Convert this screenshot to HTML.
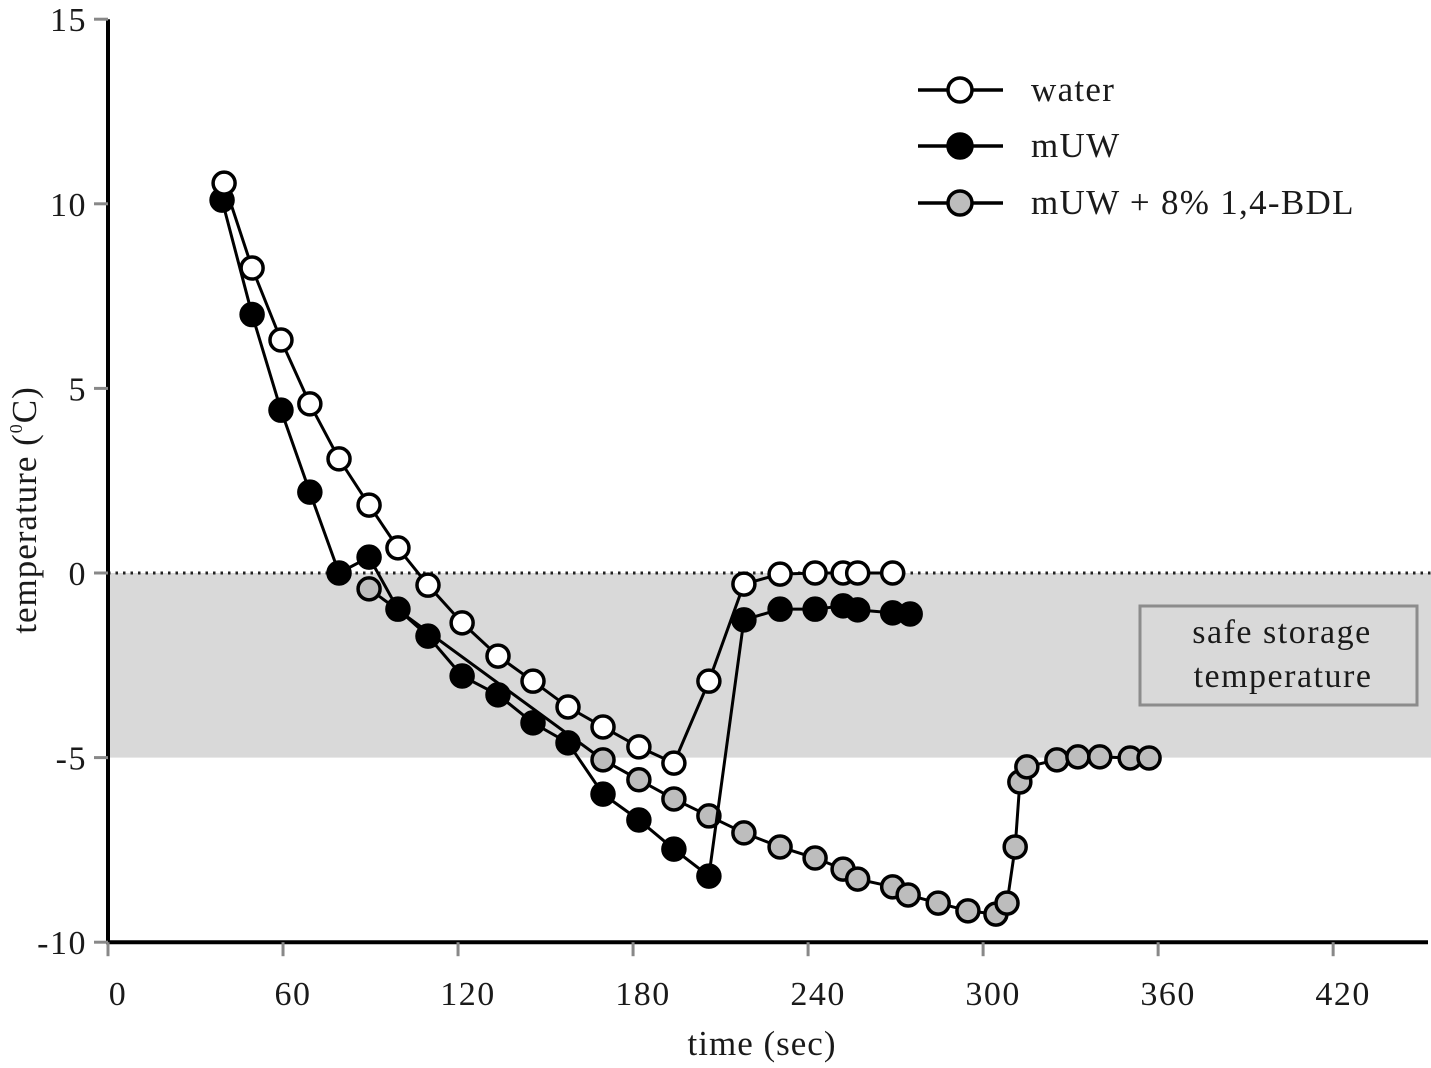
<!DOCTYPE html>
<html><head><meta charset="utf-8">
<style>
html,body{margin:0;padding:0;background:#fff;}
svg text{font-family:"Liberation Serif",serif;fill:#1a1a1a;}
</style></head>
<body>
<svg id="chart" width="1431" height="1063" viewBox="0 0 1431 1063" xmlns="http://www.w3.org/2000/svg">
<g id="bg"></g><g id="axes"></g><g id="series"></g><g id="legend"></g>
</svg>
<script>
const xTicks=[0,60,120,180,240,300,360,420];
const yTicks=[15,10,5,0,-5,-10];
const waterT=[39.8,49.4,59.3,69.2,79.2,89.5,99.4,109.7,121.4,133.7,145.7,157.7,169.7,182,194,206,218,230.4,242.4,252,257,269];
const waterV=[10.56,8.26,6.31,4.58,3.09,1.84,0.68,-0.33,-1.35,-2.25,-2.93,-3.63,-4.17,-4.71,-5.15,-2.93,-0.3,-0.03,0,0,0,0];
const muwT=[39.1,49.4,59.3,69.2,79.2,89.5,99.4,109.7,121.4,133.7,145.7,157.7,169.7,182,194,206,218,230.4,242.4,252,257,269,275];
const muwV=[10.1,7.0,4.41,2.19,0,0.43,-0.98,-1.71,-2.79,-3.3,-4.06,-4.6,-5.99,-6.69,-7.48,-8.21,-1.27,-0.98,-0.98,-0.89,-1.0,-1.08,-1.11];
const bdlT=[89.5,169.7,182,194,206,218,230.4,242.4,252,257,269,274.3,284.6,294.8,304.4,308.2,311,312.6,315,325.3,332.5,340,350.4,356.9];
const bdlV=[-0.43,-5.06,-5.6,-6.12,-6.58,-7.04,-7.42,-7.72,-8.02,-8.29,-8.5,-8.72,-8.94,-9.15,-9.24,-8.94,-7.42,-5.66,-5.25,-5.06,-4.98,-4.98,-5.01,-5.01];
const safeBand=[0,-5];

const NS="http://www.w3.org/2000/svg";
const X0=108,PXS=2.917,Y0=573,PYU=36.92;
function xs(t){return X0+t*PXS;}
function ys(v){return Y0-v*PYU;}
function mk(tag,attrs,parent){const e=document.createElementNS(NS,tag);for(const k in attrs)e.setAttribute(k,attrs[k]);parent.appendChild(e);return e;}
const bg=document.getElementById('bg'),ax=document.getElementById('axes'),se=document.getElementById('series'),lg=document.getElementById('legend');

const band=mk('rect',{x:X0,y:ys(safeBand[0]),width:1431-X0,height:ys(safeBand[1])-ys(safeBand[0]),fill:'#d9d9d9'},bg);


const zl=mk('line',{x1:X0,x2:1431,y1:ys(0),y2:ys(0),stroke:'#222','stroke-width':3,'stroke-dasharray':'2.5 5'},bg);


const box=mk('rect',{x:1140,y:606,width:277,height:99,fill:'#d9d9d9',stroke:'#8c8c8c','stroke-width':3},bg);


const bt1=mk('text',{x:1282,y:643,'font-size':34,'letter-spacing':1.5,'text-anchor':'middle'},bg);bt1.textContent='safe storage';


const bt2=mk('text',{x:1283,y:687,'font-size':34,'letter-spacing':1.5,'text-anchor':'middle'},bg);bt2.textContent='temperature';



const yaxis=mk('line',{x1:X0,x2:X0,y1:ys(15),y2:944,stroke:'#000','stroke-width':4},ax);


const xaxis=mk('line',{x1:X0-2,x2:1428,y1:ys(-10),y2:ys(-10),stroke:'#000','stroke-width':4},ax);


yTicks.forEach(v=>{
  const tk=mk('line',{x1:X0-14,x2:X0,y1:ys(v),y2:ys(v),stroke:'#888','stroke-width':3},ax);
  
  
  const t=mk('text',{x:87,y:ys(v)+12,'font-size':34,'letter-spacing':1.5,'text-anchor':'end'},ax);t.textContent=v;
  
  
});
xTicks.forEach(v=>{
  const tk=mk('line',{x1:xs(v),x2:xs(v),y1:ys(-10),y2:ys(-10)+14,stroke:'#888','stroke-width':3},ax);
  
  
  const t=mk('text',{x:xs(v)+10,y:1005,'font-size':34,'letter-spacing':1.5,'text-anchor':'middle'},ax);t.textContent=v;
  
  
});
const xt=mk('text',{x:762,y:1055,'font-size':35,'letter-spacing':1,'text-anchor':'middle'},ax);xt.textContent='time (sec)';


const yt=mk('text',{x:0,y:0,'font-size':35,'letter-spacing':1,'text-anchor':'middle',transform:'translate(36,510) rotate(-90)'},ax);
yt.innerHTML='temperature (<tspan font-size="18" dy="-14">0</tspan><tspan dy="14">C)</tspan>';



function drawSeries(T,V,fill,name){
  const g=mk('g',{},se);
  
  
  const pts=T.map((t,i)=>xs(t)+','+ys(V[i])).join(' ');
  const pl=mk('polyline',{points:pts,fill:'none',stroke:'#000','stroke-width':3},g);
  
  
  T.forEach((t,i)=>{
    const c=mk('circle',{cx:xs(t),cy:ys(V[i]),r:11,fill:fill,stroke:'#000','stroke-width':3.5},g);
    
    
  });
}
drawSeries(bdlT,bdlV,'#bdbdbd','mUW-bdl');
drawSeries(muwT,muwV,'#000','mUW');
drawSeries(waterT,waterV,'#fff','water');

const legendItems=[['water','#fff',90],['mUW','#000',146],['mUW + 8% 1,4-BDL','#bdbdbd',203]];
legendItems.forEach(it=>{
  const g=mk('g',{},lg);
  
  
  mk('line',{x1:918,x2:1003,y1:it[2],y2:it[2],stroke:'#000','stroke-width':3.5},g);
  mk('circle',{cx:960,cy:it[2],r:12,fill:it[1],stroke:'#000','stroke-width':3.5},g);
  const t=mk('text',{x:1031,y:it[2]+11,'font-size':35,'letter-spacing':1.3},g);t.textContent=it[0];
});
</script>
</body></html>
